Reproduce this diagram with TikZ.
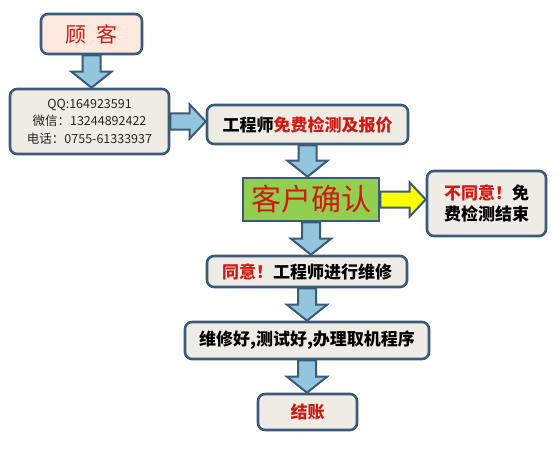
\documentclass[tikz,border=0pt]{standalone}
\usepackage{fontspec}
\setmainfont{Noto Sans CJK SC}
\usetikzlibrary{calc,backgrounds}
\definecolor{edgeblue}{HTML}{3C5A7A}
\definecolor{arrowblue}{HTML}{93C5DD}
\definecolor{boxgray}{HTML}{EEECE4}
\definecolor{boxpink}{HTML}{FDE9E0}
\definecolor{okgreen}{HTML}{92CF50}
\definecolor{warnred}{HTML}{D01A14}
\definecolor{arrowyellow}{HTML}{FFFF00}
\tikzset{
  box/.style={draw=edgeblue, line width=2.6pt, rounded corners=7pt, fill=boxgray,
    inner sep=0pt, align=center, font=\bfseries\fontsize{17}{21}\selectfont},
  fatarrow/.style={draw=edgeblue, line width=2pt, line join=miter},
}
% fat arrows between two named boxes
\newcommand\fatdown[3][arrowblue]{%
  \draw[fatarrow, fill=#1] let \p1=(#2.south), \p2=(#3.north) in
    (\x1-9pt,\y1) -- (\x1+9pt,\y1) -- (\x1+9pt,\y2+16pt) -- (\x1+20pt,\y2+16pt)
    -- (\x1,\y2) -- (\x1-20pt,\y2+16pt) -- (\x1-9pt,\y2+16pt) -- cycle;}
\newcommand\fatright[3][arrowblue]{%
  \draw[fatarrow, fill=#1] let \p1=(#2.east), \p2=(#3.west) in
    (\x1,\y1+8pt) -- (\x2-16pt,\y1+8pt) -- (\x2-16pt,\y1+17pt) -- (\x2,\y1)
    -- (\x2-16pt,\y1-17pt) -- (\x2-16pt,\y1-8pt) -- (\x1,\y1-8pt) -- cycle;}
\begin{document}
\begin{tikzpicture}[x=1pt, y=-1pt]
\useasboundingbox (0,0) rectangle (559,468);

\node (guke) [box, fill=boxpink, minimum width=101pt, minimum height=40pt,
  font=\fontsize{21}{24}\selectfont, text=warnred] at (91.5,34) {顾\hspace{0.45em}客};
\node (info) [box, minimum width=159pt, minimum height=65pt,
  font=\fontsize{12.5}{17.5}\selectfont, text=black!85] at (89.5,121.5)
  {QQ:164923591\\微信：13244892422\\电话：0755-61333937};
\node (quote) [box, minimum width=201pt, minimum height=39pt] at (307.5,124.5)
  {工程师\textcolor{warnred}{免费检测及报价}};
\node (confirm) [box, rounded corners=0pt, fill=okgreen, minimum width=136pt,
  minimum height=43pt, font=\fontsize{30}{32}\selectfont, text=warnred]
  at (311,199.5) {客户确认};
\node (refuse) [box, minimum width=119pt, minimum height=65pt] at (486.5,203.5)
  {\textcolor{warnred}{不同意！}免\\费检测结束};
\node (agree) [box, minimum width=200pt, minimum height=31pt] at (307,271.5)
  {\textcolor{warnred}{同意！}工程师进行维修};
\node (repair) [box, minimum width=244pt, minimum height=37pt] at (307,340.5)
  {维修好,测试好,办理取机程序};
\node (pay) [box, minimum width=99pt, minimum height=36pt, text=warnred]
  at (307.5,412) {结账};

\begin{scope}[on background layer]
\fill[white] (0,0) rectangle (559,468);
\fatdown{guke}{info}
\fatright{info}{quote}
\fatdown{quote}{confirm}
\fatright[arrowyellow]{confirm}{refuse}
\fatdown{confirm}{agree}
\fatdown{agree}{repair}
\fatdown{repair}{pay}
\end{scope}
\end{tikzpicture}
\end{document}
